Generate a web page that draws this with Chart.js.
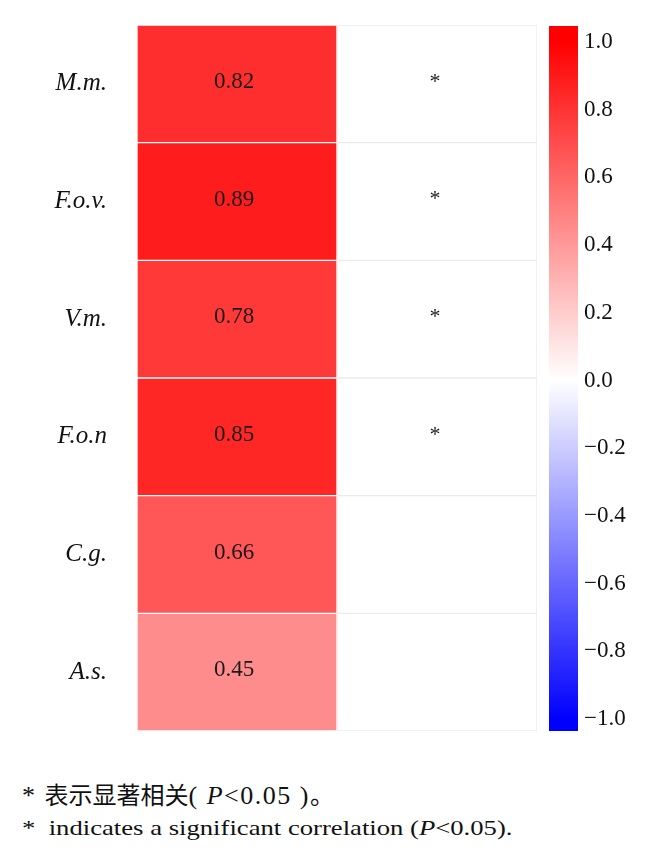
<!DOCTYPE html>
<html>
<head>
<meta charset="utf-8">
<script src="https://cdn.jsdelivr.net/npm/chart.js@4"></script>
<style>
  html, body { margin: 0; padding: 0; background: #fff; }
  body { width: 659px; height: 858px; position: relative; overflow: hidden; }
  #heat { position: absolute; left: 0; top: 0; }
  #bar { position: absolute; left: 540px; top: 0; }
  .note { position: absolute; left: 22px; color: #111; white-space: nowrap; transform-origin: left center; }
  #noteCn { top: 776px; font-family: "Liberation Serif", serif; font-size: 26px; letter-spacing: 1.5px; }
  #noteCn .cn { font-family: "Noto Sans CJK SC", sans-serif; font-size: 24px; letter-spacing: 0; }
  #noteEn { top: 816px; font-family: "Liberation Serif", serif; font-size: 21px; transform: scaleX(1.27); }
</style>
</head>
<body>
<canvas id="heat" width="659" height="740"></canvas>
<canvas id="bar" width="119" height="740"></canvas>
<div class="note" id="noteCn">* <span class="cn">表示显著相关</span>( <i>P</i>&lt;0.05 )<span class="cn">。</span></div>
<div class="note" id="noteEn">*&nbsp; indicates a significant correlation (<i>P</i>&lt;0.05).</div>
<script>
const rows = ['M.m.', 'F.o.v.', 'V.m.', 'F.o.n', 'C.g.', 'A.s.'];
const values = [0.82, 0.89, 0.78, 0.85, 0.66, 0.45];
const marks = ['*', '*', '*', '*', '', ''];
const barTicks = [1.0, 0.8, 0.6, 0.4, 0.2, 0.0, -0.2, -0.4, -0.6, -0.8, -1.0];

const cellColor = v => {
  const c = Math.round(255 * (1 - Math.abs(v)));
  return v >= 0 ? `rgb(255,${c},${c})` : `rgb(${c},${c},255)`;
};

// no label padding, chart areas are set by layout padding only
const noPad = axis => {
  axis.paddingTop = 0;
  axis.paddingBottom = 0;
};

const cellText = {
  id: 'cellText',
  afterDatasetsDraw(chart) {
    const ctx = chart.ctx;
    ctx.save();
    ctx.textAlign = 'center';
    ctx.textBaseline = 'middle';
    ctx.fillStyle = '#1a1a1a';
    chart.getDatasetMeta(0).data.forEach((el, i) => {
      ctx.font = '23px "Liberation Serif", serif';
      ctx.fillText(values[i].toFixed(2), (el.x + el.base) / 2 - 3, el.y - 2);
    });
    chart.getDatasetMeta(1).data.forEach((el, i) => {
      ctx.font = '22px "Liberation Serif", serif';
      ctx.fillText(marks[i], (el.x + el.base) / 2 - 2, el.y - 2);
    });
    ctx.restore();
  }
};

new Chart(document.getElementById('heat').getContext('2d'), {
  type: 'bar',
  data: {
    labels: rows,
    datasets: [{
      data: rows.map(() => 1),
      backgroundColor: values.map(cellColor),
      borderColor: '#ffffff',
      borderWidth: 1,
      borderSkipped: false,
      barPercentage: 1,
      categoryPercentage: 1
    }, {
      data: rows.map(() => 1),
      backgroundColor: '#ffffff',
      borderColor: '#ebebeb',
      borderWidth: 1,
      borderSkipped: false,
      barPercentage: 1,
      categoryPercentage: 1
    }]
  },
  options: {
    indexAxis: 'y',
    responsive: false,
    animation: false,
    layout: { padding: { top: 25, right: 122, bottom: 9, left: 0 } },
    plugins: { legend: { display: false }, tooltip: { enabled: false } },
    scales: {
      x: { stacked: true, min: 0, max: 2, display: false },
      y: {
        stacked: true,
        grid: { display: false, tickLength: 0 },
        border: { display: false },
        afterFit: axis => { axis.width = 137; noPad(axis); },
        ticks: {
          padding: 30,
          color: '#111',
          font: { family: '"Liberation Serif", serif', size: 25, style: 'italic' }
        }
      }
    }
  },
  plugins: [cellText]
});

new Chart(document.getElementById('bar').getContext('2d'), {
  type: 'bar',
  data: {
    labels: [''],
    datasets: [{
      data: [[-1.035, 1.047]],
      backgroundColor: ctx => {
        const chart = ctx.chart;
        if (!chart.chartArea) return '#fff';
        const y = chart.scales.y;
        const g = chart.ctx.createLinearGradient(0, y.getPixelForValue(1), 0, y.getPixelForValue(-1));
        g.addColorStop(0, '#ff0000');
        g.addColorStop(0.5, '#ffffff');
        g.addColorStop(1, '#0000ff');
        return g;
      },
      barPercentage: 1,
      categoryPercentage: 1
    }]
  },
  options: {
    responsive: false,
    animation: false,
    layout: { padding: { top: 26, right: 0, bottom: 9, left: 9 } },
    plugins: { legend: { display: false }, tooltip: { enabled: false } },
    scales: {
      x: { display: false },
      y: {
        position: 'right',
        min: -1.035,
        max: 1.047,
        grid: { display: false, tickLength: 0 },
        border: { display: false },
        afterFit: axis => { axis.width = 81; noPad(axis); },
        afterBuildTicks: axis => { axis.ticks = barTicks.map(v => ({ value: v })); },
        ticks: {
          padding: 6,
          color: '#111',
          font: { family: '"Liberation Serif", serif', size: 23 },
          callback: v => (Math.abs(v) < 1e-9 ? '0.0' : v.toFixed(1).replace('-', '\u2212'))
        }
      }
    }
  }
});
</script>
</body>
</html>
